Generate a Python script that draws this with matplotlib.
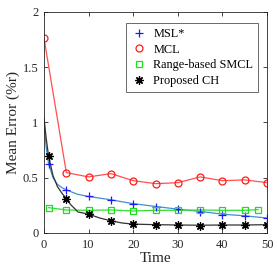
import matplotlib
matplotlib.use("Agg")
import matplotlib.pyplot as plt

plt.rcParams['font.family'] = ['Liberation Serif', 'DejaVu Serif']
plt.rcParams['mathtext.fontset'] = 'stix'

# Marker data
x_msl = [1, 5, 10, 15, 20, 25, 30, 35, 40, 45, 50]
y_msl = [0.62, 0.39, 0.33, 0.30, 0.262, 0.238, 0.214, 0.193, 0.166, 0.154, 0.133]

x_mcl = [0, 5, 10, 15, 20, 25, 30, 35, 40, 45, 50]
y_mcl = [1.76, 0.546, 0.507, 0.537, 0.473, 0.446, 0.455, 0.507, 0.473, 0.48, 0.455]

x_smcl = [1, 5, 10, 15, 20, 25, 30, 35, 40, 45, 48]
y_smcl = [0.229, 0.208, 0.205, 0.208, 0.199, 0.205, 0.205, 0.208, 0.205, 0.205, 0.211]

x_ch = [1, 5, 10, 15, 20, 25, 30, 35, 40, 45, 50]
y_ch = [0.697, 0.305, 0.169, 0.111, 0.078, 0.075, 0.072, 0.066, 0.072, 0.072, 0.075]

# Fitted-curve lines
xc_msl = [0, 0.5, 1, 2, 3, 4, 5, 7.5, 10, 15, 20, 25, 30, 35, 40, 45, 50]
yc_msl = [0.98, 0.77, 0.63, 0.50, 0.44, 0.41, 0.39, 0.35, 0.33, 0.30, 0.265, 0.24, 0.215, 0.195, 0.17, 0.155, 0.135]

xc_ch = [0, 0.5, 1, 2, 3, 4, 5, 6, 7, 7.6, 10, 12.5, 15, 17.5, 20, 25, 30, 35, 40, 45, 50]
yc_ch = [1.04, 0.85, 0.70, 0.52, 0.42, 0.36, 0.31, 0.255, 0.215, 0.19, 0.17, 0.135, 0.11, 0.09, 0.08, 0.075, 0.072, 0.07, 0.072, 0.072, 0.075]

labels = ['MSL*', 'MCL', 'Range-based SMCL', 'Proposed CH']
xticks = [0, 10, 20, 30, 40, 50]
yticks = [0, 0.5, 1, 1.5, 2]
ytick_labels = ['0', '0.5', '1', '1.5', '2']

fig = plt.figure(figsize=(2.77, 2.77), dpi=100)
ax = fig.add_axes([0.159, 0.159, 0.805, 0.798])

# lines
ax.plot(xc_msl, yc_msl, color='#3f8fd2', lw=0.9)
ax.plot(x_mcl, y_mcl, color='#ff5050', lw=0.9)
ax.plot(x_smcl, y_smcl, color='#33dd33', lw=0.9)
ax.plot(xc_ch, yc_ch, color='#333333', lw=0.9)

# markers
ax.plot(x_msl, y_msl, ls='none', marker='+', color='#1a1aff', ms=6, mew=0.9, label=labels[0])
ax.plot(x_mcl, y_mcl, ls='none', marker='o', mfc='none', mec='#ff1a1a', ms=5, mew=0.9, label=labels[1])
ax.plot(x_smcl, y_smcl, ls='none', marker='s', mfc='none', mec='#1adf1a', ms=4.5, mew=0.9, label=labels[2])
ax.plot(x_ch, y_ch, ls='none', marker=(8, 2, 0), color='black', ms=6, mew=0.9, label=labels[3])

ax.set_xlim(0, 50)
ax.set_ylim(0, 2)
ax.set_xticks(xticks)
ax.set_yticks(yticks)
ax.set_yticklabels(ytick_labels)
ax.tick_params(direction='in', top=True, right=True, labelsize=9, length=3, width=0.6, colors='#262626', pad=4)
for s in ax.spines.values():
    s.set_linewidth(0.6)
    s.set_color('#262626')

ax.set_xlabel('Time', fontsize=11, color='#262626', labelpad=1)
ax.set_ylabel('Mean Error (%r)', fontsize=11, color='#262626', labelpad=2)

leg = ax.legend(loc='upper right', bbox_to_anchor=(0.96, 0.95), borderaxespad=0, fontsize=8.8, frameon=True,
                fancybox=False, edgecolor='#262626', handlelength=1.2, handletextpad=0.6, borderpad=0.4,
                labelspacing=0.3)
leg.get_frame().set_linewidth(0.6)

fig.savefig('out.png', dpi=100)
